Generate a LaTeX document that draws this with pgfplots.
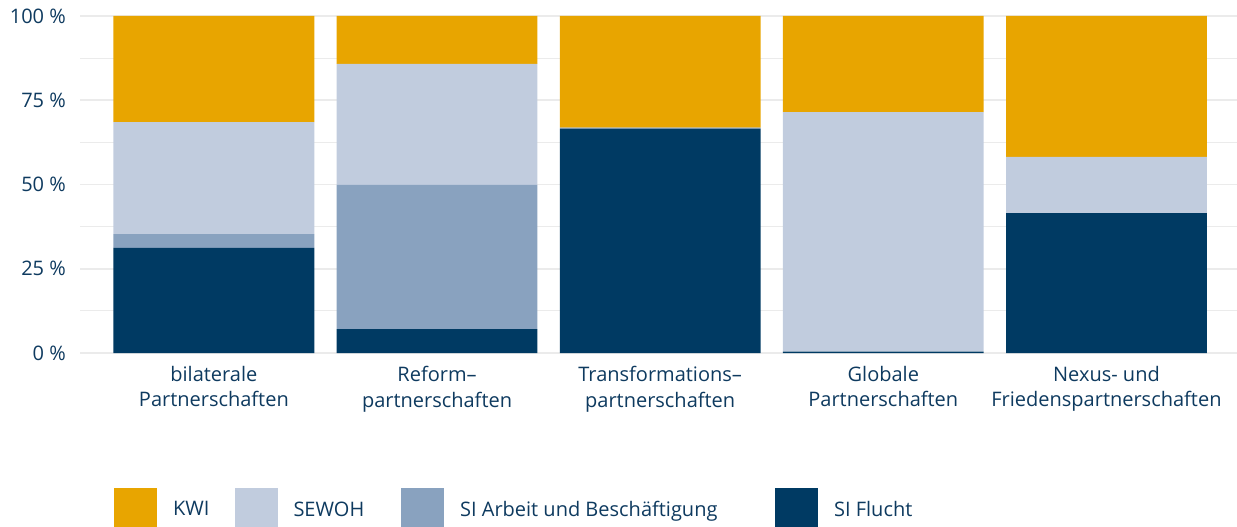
\documentclass[border=0pt]{standalone}
\usepackage{fontspec}
\setmainfont{Open Sans}
\usepackage{pgfplots}
\pgfplotsset{compat=1.18}
\definecolor{kwi}{HTML}{E8A500}
\definecolor{sewoh}{HTML}{C1CCDE}
\definecolor{arbeit}{HTML}{89A2BF}
\definecolor{flucht}{HTML}{003A63}
\definecolor{txt}{HTML}{0E3A5F}
\definecolor{gridc}{HTML}{EBEBEB}
\begin{document}
\begin{tikzpicture}
\path[use as bounding box] (-80pt,-174pt) rectangle (1157pt,353pt);
\clip (-80pt,-174pt) rectangle (1157pt,353pt);
\begin{axis}[
  at={(0pt,0pt)}, anchor=south west,
  scale only axis, width=1157pt, height=337pt,
  ybar stacked, bar width=0.9,
  xmin=-0.6, xmax=4.585, ymin=0, ymax=100,
  axis line style={draw=none},
  major tick length=0pt, minor tick length=0pt,
  xtick={0,1,2,3,4},
  xticklabels={{bilaterale\\Partnerschaften},{Reform–\\partnerschaften},{Transformations–\\partnerschaften},{Globale\\Partnerschaften},{Nexus- und\\Friedenspartnerschaften}},
  ytick={0,25,50,75,100},
  yticklabels={0 \%,25 \%,50 \%,75 \%,100 \%},
  minor ytick={12.5,37.5,62.5,87.5},
  ymajorgrids, yminorgrids,
  major grid style={gridc, line width=1.6pt},
  minor grid style={gridc, line width=0.8pt},
  tick label style={font=\fontsize{20}{25.5}\selectfont, text=txt},
  yticklabel style={inner sep=0pt, anchor=east, xshift=-14pt},
  xticklabel style={inner sep=0pt, anchor=north, align=center, yshift=-13pt},
  legend columns=4,
  reverse legend,
  legend image code/.code={\fill[#1] (0pt,-21.5pt) rectangle (43pt,21.5pt);},
  legend style={at={(rel axis cs:0.0294,-0.4006)}, anchor=north west, draw=none, fill=none,
    inner sep=0pt, outer sep=0pt,
    font=\fontsize{20}{25.5}\selectfont, text=txt,
    nodes={inner sep=0pt, anchor=west},
    /tikz/every odd column/.style={column sep=16pt},
    /tikz/every even column/.style={column sep=0pt}},
]
\addplot[fill=flucht, draw=none] coordinates {(0,31.2) (1,7.1) (2,66.6) (3,0.4) (4,41.5)};
\addplot[fill=arbeit, draw=none] coordinates {(0,4.1) (1,42.8) (2,0.3) (3,0) (4,0)};
\addplot[fill=sewoh, draw=none] coordinates {(0,33.2) (1,35.9) (2,0) (3,71.1) (4,16.7)};
\addplot[fill=kwi, draw=none] coordinates {(0,31.5) (1,14.2) (2,33.1) (3,28.5) (4,41.8)};
\addlegendentry{\makebox[107pt][l]{SI Flucht}}
\addlegendentry{\makebox[315pt][l]{SI Arbeit und Beschäftigung}}
\addlegendentry{\makebox[107.6pt][l]{SEWOH}}
\addlegendentry{\makebox[61.5pt][l]{KWI}}
\end{axis}
\end{tikzpicture}
\end{document}
